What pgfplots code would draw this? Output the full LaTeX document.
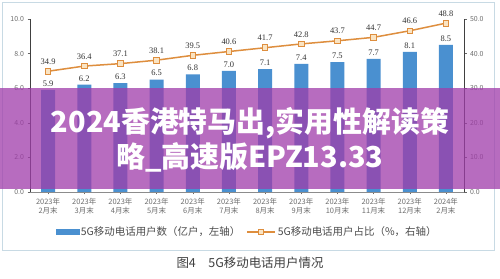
\documentclass[border=0pt]{standalone}
\usepackage{pgfplots}
\pgfplotsset{compat=1.18}
\usepackage{fontspec}
\setmainfont{Noto Sans CJK SC}
\newfontfamily\numfont{Liberation Serif}
\definecolor{barblue}{RGB}{74,144,208}
\definecolor{lineor}{RGB}{222,142,62}
\definecolor{markfill}{RGB}{250,228,195}
\definecolor{panel}{RGB}{200,218,228}
\definecolor{txtgray}{RGB}{110,110,110}
\definecolor{banner}{RGB}{160,60,170}
\begin{document}
\begin{tikzpicture}
\fill[white] (0bp,0bp) rectangle (500bp,279bp);
\draw[panel, line width=0.8bp] (2.5bp,29bp) rectangle (494.5bp,277bp);
\begin{axis}[
  at={(30bp,87bp)}, anchor=south west,
  scale only axis, width=434bp, height=173bp,
  xmin=-0.5, xmax=11.5, ymin=0, ymax=10,
  axis y line*=left, axis x line*=bottom,
  y axis line style={draw=black!75, line width=0.6bp},
  x axis line style={draw=black!45, line width=0.6bp},
  ytick={0,2,...,10},
  yticklabel style={/pgf/number format/.cd, fixed, fixed zerofill, precision=1, assume math mode=true},
  tick label style={font=\fontsize{7}{8}\selectfont, text=txtgray},
  tick style={draw=black!60, line width=0.5bp},
  xtick={0,...,11},
  xticklabels={{2023年\\2月末},{2023年\\3月末},{2023年\\4月末},{2023年\\5月末},{2023年\\6月末},{2023年\\7月末},{2023年\\8月末},{2023年\\9月末},{2023年\\10月末},{2023年\\11月末},{2023年\\12月末},{2024年\\2月末}},
  xticklabel style={align=center, font=\fontsize{7.5}{9.5}\selectfont, text=txtgray},
  tick align=outside, major tick length=2.5bp,
  ybar, bar width=14bp,
  nodes near coords,
  nodes near coords style={font=\numfont\fontsize{8.5}{9}\selectfont, text=black!80, /pgf/number format/.cd, fixed, fixed zerofill, precision=1, assume math mode=true},
]
\addplot[fill=barblue, draw=none] coordinates {
(0,5.9) (1,6.2) (2,6.3) (3,6.5) (4,6.8) (5,7.0) (6,7.1) (7,7.4) (8,7.5) (9,7.7) (10,8.1) (11,8.5)};
\end{axis}
\begin{axis}[
  at={(30bp,87bp)}, anchor=south west,
  scale only axis, width=434bp, height=173bp,
  xmin=-0.5, xmax=11.5, ymin=0, ymax=50,
  axis y line*=right, axis x line=none,
  y axis line style={draw=black!75, line width=0.6bp},
  ytick={0,10,...,50},
  yticklabel style={/pgf/number format/.cd, fixed, fixed zerofill, precision=1, assume math mode=true},
  tick label style={font=\fontsize{7}{8}\selectfont, text=txtgray},
  tick style={draw=black!60, line width=0.5bp},
  tick align=outside, major tick length=2.5bp,
  legend style={at={(axis description cs:0.5,-0.231)}, anchor=center, draw=none, fill=none,
    font=\fontsize{10.5}{11}\selectfont, text=black!70, legend columns=2,
    /tikz/every even column/.append style={column sep=4bp}},
]
\addlegendimage{legend image code/.code={\fill[barblue] (0bp,-2.5bp) rectangle (23bp,2.5bp);}}
\addlegendentry{5G移动电话用户数（亿户，左轴）}
\addplot[lineor, line width=1.5bp, mark=square*, mark size=2.8bp,
  mark options={fill=markfill, draw=lineor, line width=0.9bp},
  legend image code/.code={\draw[lineor, line width=1.5bp] (0bp,0bp) -- (28bp,0bp);
     \draw[lineor, fill=markfill, line width=0.9bp] (11bp,-2.8bp) rectangle (16.6bp,2.8bp);},
  nodes near coords,
  nodes near coords style={font=\numfont\fontsize{8.5}{9}\selectfont, text=black!80, yshift=3bp, /pgf/number format/.cd, fixed, fixed zerofill, precision=1, assume math mode=true}]
coordinates {(0,34.9) (1,36.4) (2,37.1) (3,38.1) (4,39.5) (5,40.6) (6,41.7) (7,42.8) (8,43.7) (9,44.7) (10,46.6) (11,48.8)};
\addlegendentry{5G移动电话用户占比（\%，右轴）}
\end{axis}
\fill[banner, opacity=0.75] (0bp,90bp) rectangle (500bp,191bp);
\node[text=white, font=\bfseries\fontsize{29}{35}\selectfont, align=center] at (250bp,139.5bp)
  {2024香港特马出,实用性解读策\\略\_高速版EPZ13.33};
\node[font=\fontsize{12.5}{14}\selectfont, text=black!75] at (250bp,16bp) {图4\quad 5G移动电话用户情况};
\end{tikzpicture}
\end{document}
